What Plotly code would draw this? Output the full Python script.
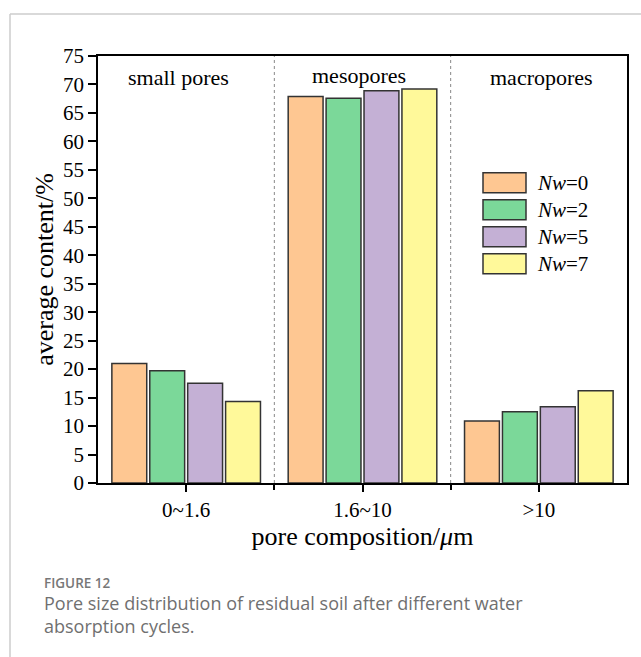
import plotly.graph_objects as go

categories = ["0~1.6", "1.6~10", ">10"]
group_labels = ["small pores", "mesopores", "macropores"]
series_names = ["<i>Nw</i>=0", "<i>Nw</i>=2", "<i>Nw</i>=5", "<i>Nw</i>=7"]
nw0 = [21.0, 67.9, 10.9]
nw2 = [19.7, 67.6, 12.5]
nw5 = [17.5, 68.9, 13.4]
nw7 = [14.3, 69.2, 16.2]
series_values = [nw0, nw2, nw5, nw7]
colors = ["#FEC792", "#7BD899", "#C4B0D5", "#FFF99A"]

W, H = 641, 657
L, R, T, B = 98, 14, 56, 174
pw, ph = W - L - R, H - T - B

def px(x):
    return (x - L) / pw

def py(y):
    return (H - B - y) / ph

serif = "Liberation Serif"
sans = "Open Sans"

xpos = list(range(len(categories)))
fig = go.Figure()
for name, vals, c in zip(series_names, series_values, colors):
    fig.add_trace(go.Bar(x=xpos, y=vals, name=name,
                         marker=dict(color=c, line=dict(color="#333333", width=1.5)),
                         showlegend=False))

shapes = []
# dotted dividers between groups
for b in [i + 0.5 for i in xpos[:-1]]:
    shapes.append(dict(type="line", xref="x", yref="paper", x0=b, x1=b, y0=0, y1=1,
                       line=dict(color="#888888", width=1, dash="dot")))
# card border
shapes.append(dict(type="line", xref="paper", yref="paper", x0=px(10), x1=px(10), y0=py(14), y1=py(H + 5),
                   line=dict(color="#cccccc", width=1.5)))
shapes.append(dict(type="line", xref="paper", yref="paper", x0=px(10), x1=px(W + 5), y0=py(14), y1=py(14),
                   line=dict(color="#cccccc", width=1.5)))

annotations = []
# group labels
label_shift = [-8, -4, 3]
label_y = [78, 75, 78]
for i, g in enumerate(group_labels):
    annotations.append(dict(x=i, y=py(label_y[i]), xref="x", yref="paper", text=g, showarrow=False,
                            xshift=label_shift[i],
                            font=dict(family=serif, size=22, color="black"), yanchor="middle"))
# custom legend
for k, (name, c) in enumerate(zip(series_names, colors)):
    yc = 182.7 + 27 * k
    shapes.append(dict(type="rect", xref="paper", yref="paper", x0=px(483), x1=px(526),
                       y0=py(yc - 10), y1=py(yc + 10), fillcolor=c, line=dict(color="#333333", width=1.5)))
    annotations.append(dict(x=px(535), y=py(yc), xref="paper", yref="paper", text=name, showarrow=False,
                            xanchor="left", yanchor="middle", font=dict(family=serif, size=21, color="black")))
# caption
annotations.append(dict(x=px(42), y=py(583), xref="paper", yref="paper", text="FIGURE 12", showarrow=False,
                        xanchor="left", yanchor="middle",
                        font=dict(family=sans, size=13.5, color="#777777", weight=600)))
annotations.append(dict(x=px(42), y=py(603), xref="paper", yref="paper",
                        text="Pore size distribution of residual soil after different water", showarrow=False,
                        xanchor="left", yanchor="middle", font=dict(family=sans, size=18, color="#707070")))
annotations.append(dict(x=px(42), y=py(626), xref="paper", yref="paper", text="absorption cycles.", showarrow=False,
                        xanchor="left", yanchor="middle", font=dict(family=sans, size=18, color="#707070")))

fig.update_layout(
    width=W, height=H, margin=dict(l=L, r=R, t=T, b=B),
    paper_bgcolor="white", plot_bgcolor="white",
    barmode="group", bargap=0.14, bargroupgap=0.08,
    shapes=shapes, annotations=annotations,
    font=dict(family=serif, color="black"),
    xaxis=dict(range=[-0.5, len(categories) - 0.5], tickvals=xpos, ticktext=categories,
               ticks="outside", ticklen=7, tickwidth=1.5, tickcolor="black",
               minor=dict(tickvals=[i + 0.5 for i in xpos[:-1]], ticks="outside", ticklen=5,
                          tickwidth=1.5, tickcolor="black"),
               showline=True, linecolor="black", linewidth=1.8, mirror=True, showgrid=False, zeroline=False,
               tickfont=dict(family=serif, size=21),
               title=dict(text="pore composition/<i>μ</i>m", font=dict(family=serif, size=26), standoff=0)),
    yaxis=dict(range=[0, 75], dtick=5, ticks="outside", ticklen=8, tickwidth=1.5, tickcolor="black",
               showline=True, linecolor="black", linewidth=1.8, mirror=True, showgrid=False, zeroline=False,
               tickfont=dict(family=serif, size=21),
               title=dict(text="average content/%", font=dict(family=serif, size=26), standoff=2)),
)

fig.write_html("out.html")
